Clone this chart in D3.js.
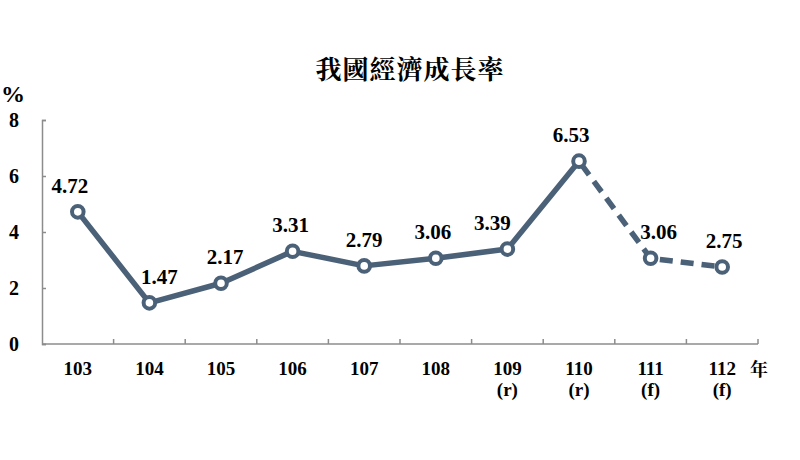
<!DOCTYPE html>
<html>
<head>
<meta charset="utf-8">
<script src="https://cdn.jsdelivr.net/npm/d3@7"></script>
<style>
  body { margin: 0; background: #fff; }
  svg { display: block; }
</style>
</head>
<body>
<svg id="chart" width="800" height="460"></svg>
<script>
// years (ROC calendar) and growth rate in %
const years = ['103', '104', '105', '106', '107', '108', '109', '110', '111', '112']
const notes = ['', '', '', '', '', '', '(r)', '(r)', '(f)', '(f)']
const growth = [4.72, 1.47, 2.17, 3.31, 2.79, 3.06, 3.39, 6.53, 3.06, 2.75]
const yTicks = [0, 2, 4, 6, 8]
// small horizontal nudges for the value labels
const labelShift = [-8, 10, 4, -2, 0, -3, -15, -8, 8, 2]

const width = 800, height = 460
const margin = { top: 120, right: 42, bottom: 116, left: 42 }
const w = width - margin.left - margin.right
const h = height - margin.top - margin.bottom
const lineColor = '#4b6178'
const axisColor = '#8c8c8c'
const serif = '"Liberation Serif", "Times New Roman", serif'
const cjk = '"Noto Serif CJK TC", "Noto Sans CJK TC", sans-serif'

const svg = d3.select('#chart')
const g = svg.append('g').attr('transform', `translate(${margin.left},${margin.top})`)

const x = d3.scaleBand().domain(years).range([0, w])
const y = d3.scaleLinear().domain([0, 8]).range([h, 0])

// axes, ticks pointing inward
const xAxis = g.append('g').attr('transform', `translate(0,${h})`)
xAxis.append('path').attr('d', `M0,0H${w}`).attr('stroke', axisColor).attr('stroke-width', 1.5)
const bounds = years.map(d => x(d) + x.bandwidth())
xAxis.selectAll('line.tick').data(bounds).join('line')
  .attr('x1', d => d).attr('x2', d => d).attr('y1', 0).attr('y2', -5)
  .attr('stroke', axisColor).attr('stroke-width', 1.5)

const yAxis = d3.axisLeft(y).tickValues(yTicks).tickSize(-4).tickPadding(28)
g.append('g').call(yAxis)
  .call(s => s.select('.domain').attr('stroke', axisColor).attr('stroke-width', 1.5))
  .call(s => s.selectAll('.tick line').attr('stroke', axisColor).attr('stroke-width', 1.5))
  .call(s => s.selectAll('.tick text').attr('font-family', serif).attr('font-weight', 'bold')
    .attr('font-size', 20).attr('fill', '#000').attr('text-anchor', 'middle').attr('dy', '0.34em'))

// category labels
const xl = g.append('g').attr('font-family', serif).attr('font-weight', 'bold')
  .attr('font-size', 19).attr('text-anchor', 'middle').attr('fill', '#000')
xl.selectAll('text.year').data(years).join('text')
  .attr('x', d => x(d) + x.bandwidth() / 2).attr('y', h + 31).text(d => d)
xl.selectAll('text.note').data(notes).join('text')
  .attr('x', (d, i) => x(years[i]) + x.bandwidth() / 2).attr('y', h + 52).text(d => d)

const pts = growth.map((v, i) => ({ year: years[i], v, i }))
const px = d => x(d.year) + x.bandwidth() / 2
const line = d3.line().x(px).y(d => y(d.v))

// solid part to 110, dashed forecast part
g.append('path').datum(pts.slice(0, 8))
  .attr('fill', 'none').attr('stroke', lineColor).attr('stroke-width', 5.5)
  .attr('stroke-linejoin', 'round').attr('d', line)
g.append('path').datum(pts.slice(7))
  .attr('fill', 'none').attr('stroke', lineColor).attr('stroke-width', 5.5)
  .attr('stroke-dasharray', '13,8').attr('stroke-dashoffset', -4).attr('d', line)

g.selectAll('circle.pt').data(pts).join('circle')
  .attr('cx', px).attr('cy', d => y(d.v)).attr('r', 5.8)
  .attr('fill', '#fff').attr('stroke', lineColor).attr('stroke-width', 4)

g.selectAll('text.val').data(pts).join('text')
  .attr('x', d => px(d) + labelShift[d.i]).attr('y', d => y(d.v) - 19)
  .attr('text-anchor', 'middle').attr('font-family', serif).attr('font-weight', 'bold')
  .attr('font-size', 21).attr('fill', '#000').text(d => d.v.toFixed(2))

// title, unit, year marker
svg.append('text').attr('x', 410).attr('y', 79).attr('text-anchor', 'middle')
  .attr('font-family', cjk).attr('font-weight', 'bold').attr('letter-spacing', 1)
  .attr('font-size', 26).attr('fill', '#000').text('我國經濟成長率')
svg.append('text').attr('x', 13).attr('y', 102).attr('text-anchor', 'middle')
  .attr('font-family', serif).attr('font-weight', 'bold').attr('font-size', 24).text('%')
svg.append('text').attr('x', 759).attr('y', 376).attr('text-anchor', 'middle')
  .attr('font-family', cjk).attr('font-weight', 'bold')
  .attr('font-size', 18).text('年')
</script>
</body>
</html>
